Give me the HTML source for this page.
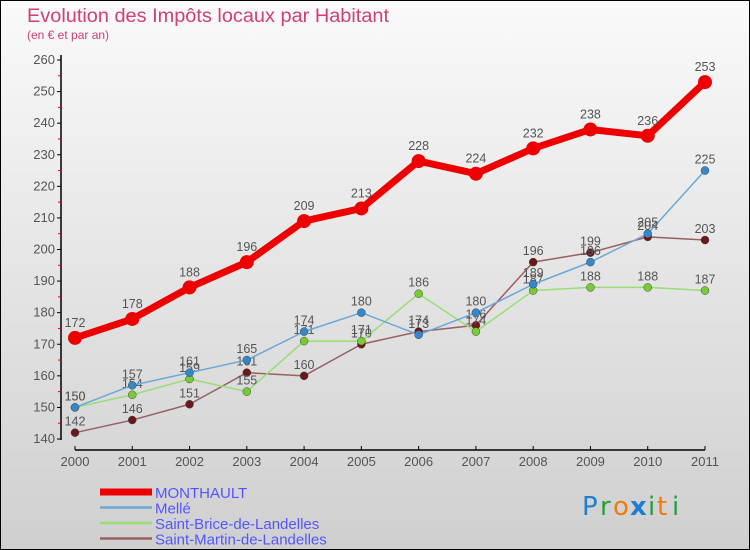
<!DOCTYPE html>
<html><head><meta charset="utf-8">
<style>
body{margin:0;width:750px;height:550px;overflow:hidden;font-family:"Liberation Sans",sans-serif}
svg{display:block}
</style></head><body>
<svg id="chart" width="750" height="550" xmlns="http://www.w3.org/2000/svg">
<defs>
<linearGradient id="bg" x1="0" y1="0" x2="0" y2="1">
<stop offset="0" stop-color="#fafafa"/><stop offset="1" stop-color="#cfcfcf"/>
</linearGradient>
</defs>
<rect x="0.5" y="0.5" width="749" height="549" fill="url(#bg)" stroke="#000"/>
<text x="27" y="22" font-size="19" fill="#d04070" textLength="362" lengthAdjust="spacingAndGlyphs">Evolution des Impôts locaux par Habitant</text>
<text x="27" y="39" font-size="12" fill="#d04070">(en € et par an)</text>
<g id="axes"></g>
<g id="series"></g>
<g id="legend"></g>
<g font-family="'DejaVu Sans',sans-serif" font-size="26">
<text x="582" y="515" fill="#1e7fd0">P</text><text x="600" y="515" fill="#2a9d3a">r</text><text x="613" y="515" fill="#f07a10">o</text><text x="630" y="515" fill="#1e7fd0" font-weight="bold">x</text><text x="648" y="515" fill="#2a9d3a">i</text><text x="657" y="515" fill="#f07a10">t</text><text x="672" y="515" fill="#2a9d3a">i</text>
</g>
</svg>
<script>
const years=[2000,2001,2002,2003,2004,2005,2006,2007,2008,2009,2010,2011];
const yTicks=[140,150,160,170,180,190,200,210,220,230,240,250,260];
const monthault=[172,178,188,196,209,213,228,224,232,238,236,253];
const melle=[150,157,161,165,174,180,173,180,189,196,205,225];
const saintBrice=[150,154,159,155,171,171,186,174,187,188,188,187];
const saintMartin=[142,146,151,161,160,170,174,176,196,199,204,203];
const NS="http://www.w3.org/2000/svg";
const x=i=>75+i*(630/11);
const y=v=>439-(v-140)*(379/120);
function mk(tag,attrs,parent){const e=document.createElementNS(NS,tag);for(const k in attrs)e.setAttribute(k,attrs[k]);parent.appendChild(e);return e;}
const axes=document.getElementById('axes');
let e=mk('line',{x1:61,y1:55,x2:61,y2:440,stroke:'#000','stroke-width':1.5},axes);


e=mk('line',{x1:75,y1:450,x2:705,y2:450,stroke:'#000','stroke-width':1.5},axes);


yTicks.forEach(t=>{
  mk('line',{x1:57,y1:y(t),x2:61,y2:y(t),stroke:'#000'},axes);
  if(t<260)mk('line',{x1:58,y1:y(t+5),x2:61,y2:y(t+5),stroke:'#e00'},axes);
  const tx=mk('text',{x:55,y:y(t)+4,'font-size':13,fill:'#555','text-anchor':'end'},axes);
  tx.textContent=t;
  
  
});
years.forEach((yr,i)=>{
  mk('line',{x1:x(i),y1:446,x2:x(i),y2:450,stroke:'#000'},axes);
  const tx=mk('text',{x:x(i),y:466,'font-size':13,fill:'#555','text-anchor':'middle'},axes);
  tx.textContent=yr;
  
  
});
const series=[
 {name:'Saint-Martin-de-Landelles',d:saintMartin,c:'#9a6060',dot:'#6a1818',w:1.5,r:4,key:'saint-martin'},
 {name:'Saint-Brice-de-Landelles',d:saintBrice,c:'#99dd77',dot:'#77cc33',w:1.5,r:4,key:'saint-brice'},
 {name:'Mellé',d:melle,c:'#6aa8d8',dot:'#3388cc',w:1.5,r:4,key:'melle'},
 {name:'MONTHAULT',d:monthault,c:'#ee0000',dot:'#ee0000',w:7,r:7,key:'monthault'}
];
const sg=document.getElementById('series');
series.forEach(s=>{
  const g=mk('g',{},sg);
  
  
  const p=mk('polyline',{points:s.d.map((v,i)=>x(i)+','+y(v)).join(' '),fill:'none',stroke:s.c,'stroke-width':s.w,'stroke-linejoin':'round'},g);
  
  
  s.d.forEach((v,i)=>{
    const c=mk('circle',{cx:x(i),cy:y(v),r:s.r,fill:s.dot,stroke:s.key==='monthault'?'none':'#444','stroke-width':0.5},g);
    
    
    const t=mk('text',{x:x(i),y:y(v)-(s.key==='monthault'?11:7),'font-size':12.5,fill:'#555','text-anchor':'middle'},g);
    t.textContent=v;
    
    
  });
});
const lg=document.getElementById('legend');
const order=[series[3],series[2],series[1],series[0]];
order.forEach((s,k)=>{
  const yy=492+k*15.5;
  const g=mk('g',{},lg);
  
  
  mk('line',{x1:100,y1:yy,x2:152,y2:yy,stroke:s.c,'stroke-width':s.key==='monthault'?7:2.5},g);
  const t=mk('text',{x:155,y:yy+6,'font-size':15,fill:'#5555ff'},g);
  t.textContent=s.name;
});
</script>
</body></html>
